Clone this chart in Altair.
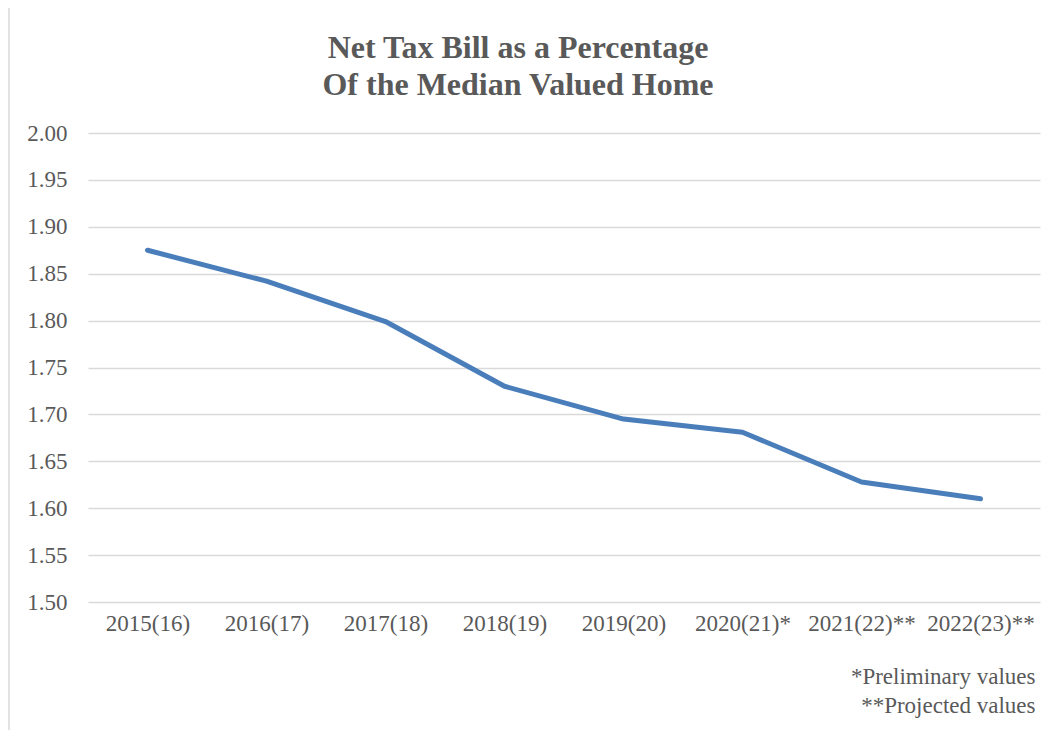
import altair as alt
import pandas as pd

categories = ["2015(16)", "2016(17)", "2017(18)", "2018(19)", "2019(20)",
              "2020(21)*", "2021(22)**", "2022(23)**"]
values = [1.875, 1.842, 1.799, 1.730, 1.695, 1.681, 1.628, 1.610]
y_ticks = [1.50, 1.55, 1.60, 1.65, 1.70, 1.75, 1.80, 1.85, 1.90, 1.95, 2.00]
title_lines = ["Net Tax Bill as a Percentage", "Of the Median Valued Home"]
footnotes = ["*Preliminary values", "**Projected values"]

df = pd.DataFrame({"year": categories, "value": values})

FONT = "Liberation Serif"
GREY = "#595959"

line = alt.Chart(df).mark_line(
    color="#4a7ebb", strokeWidth=5, strokeCap="round", strokeJoin="round"
).encode(
    x=alt.X("year:N", sort=categories,
            scale=alt.Scale(type="point", padding=0.5),
            axis=alt.Axis(title=footnotes, labelAngle=0, ticks=False, domain=False,
                          grid=False, labelPadding=10, labelFont=FONT,
                          labelFontSize=23, labelColor=GREY,
                          titleFont=FONT, titleFontSize=23, titleFontWeight="normal",
                          titleColor=GREY, titleX=947, titleY=81,
                          titleAlign="right", titleBaseline="alphabetic",
                          titleLineHeight=29)),
    y=alt.Y("value:Q", scale=alt.Scale(domain=[1.5, 2.0], nice=False, zero=False),
            axis=alt.Axis(title=None, values=y_ticks, format=".2f", ticks=False,
                          domain=False, labelPadding=21, labelFont=FONT,
                          labelFontSize=23, labelColor=GREY,
                          gridColor="#d9d9d9", gridWidth=1.5)),
)

dummy = pd.DataFrame({"a": [0]})

border = alt.Chart(dummy).mark_rule(
    color="#d9d9d9", strokeWidth=1.5
).encode(x=alt.value(-79), y=alt.value(-140), y2=alt.value(610))

title = alt.Chart(dummy).mark_text(
    font=FONT, fontSize=32, fontWeight="bold", color=GREY,
    align="center", baseline="alphabetic", lineHeight=37, lineBreak="\n"
).encode(x=alt.value(430), y=alt.value(-75), text=alt.value("\n".join(title_lines)))

chart = alt.layer(border, title, line).properties(
    width=952, height=469,
    background="white",
    padding={"left": 80, "top": 125, "right": 6, "bottom": 128},
    autosize=alt.AutoSizeParams(type="none"),
).configure_view(stroke="transparent", strokeWidth=0)

chart.save("out.html", embed_options={"renderer": "svg", "actions": False})
